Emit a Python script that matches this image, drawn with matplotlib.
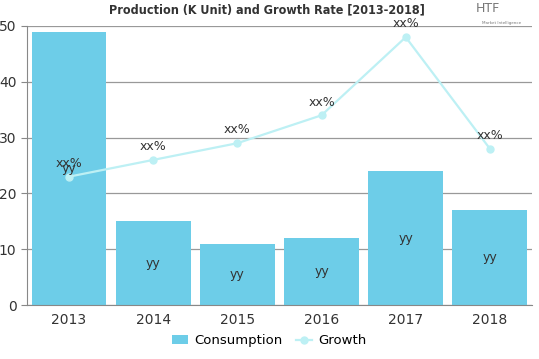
import matplotlib
matplotlib.use("Agg")
import matplotlib.pyplot as plt

years = ["2013", "2014", "2015", "2016", "2017", "2018"]
consumption = [49, 15, 11, 12, 24, 17]
growth = [23, 26, 29, 34, 48, 28]
bar_labels = ["yy"] * 6
growth_labels = ["xx%"] * 6
yticks = [0, 10, 20, 30, 40, 50]

fig = plt.figure(figsize=(5.39, 3.59), dpi=100)
ax = fig.add_axes([0.050, 0.1504, 0.937, 0.7772])

x = list(range(len(years)))
bars = ax.bar(x, consumption, width=0.89, color="#6DCDE8", label="Consumption", zorder=2)
line, = ax.plot(x, growth, color="#BDF0F4", lw=1.6, marker="o", ms=5, label="Growth", zorder=3)

for xi, v, t in zip(x, consumption, bar_labels):
    ax.text(xi, v / 2, t, ha="center", va="center", fontsize=9, color="#333333", zorder=4)
for xi, v, t in zip(x, growth, growth_labels):
    ax.text(xi, v + 1.2, t, ha="center", va="bottom", fontsize=9, color="#333333", zorder=4)

ax.set_xlim(-0.5, 5.5)
ax.set_ylim(0, 50)
ax.set_yticks(yticks)
ax.set_xticks(x)
ax.set_xticklabels(years)
ax.tick_params(axis="both", labelsize=10, colors="#333333", length=4, color="#888888")
ax.tick_params(axis="x", length=0, pad=6)
ax.grid(axis="y", color="#999999", lw=0.9, zorder=0)
ax.set_axisbelow(True)
for s in ["top", "right"]:
    ax.spines[s].set_visible(False)
ax.spines["left"].set_color("#888888")
ax.spines["bottom"].set_color("#888888")

fig.text(0.495, 0.972, "Production (K Unit) and Growth Rate [2013-2018]", ha="center", va="center",
         fontsize=9, fontweight="heavy", fontstretch="condensed", color="#333333")
fig.text(0.905, 0.975, "HTF", ha="center", va="center", fontsize=9, color="#777777")
fig.text(0.93, 0.935, "Market Intelligence", ha="center", va="center", fontsize=3, color="#777777")

fig.legend([bars, line], ["Consumption", "Growth"], loc="lower center", bbox_to_anchor=(0.5, 0.0),
           ncol=2, frameon=False, fontsize=9.5, handlelength=1.2, columnspacing=1.0, handletextpad=0.5)

fig.savefig("out.png", dpi=100)
